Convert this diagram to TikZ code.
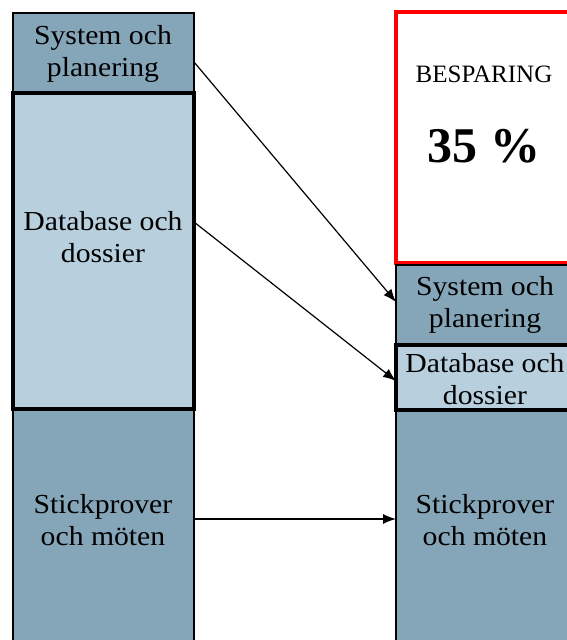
\documentclass[tikz,border=0pt]{standalone}
\usepackage{fontspec}
\setmainfont{Liberation Serif}
\newfontfamily\wideserif[FakeStretch=1.08]{Liberation Serif}
\usetikzlibrary{arrows.meta,calc}
\definecolor{darkfill}{HTML}{85A5B8}
\definecolor{lightfill}{HTML}{B8CFDD}
\tikzset{
  box/.style={draw=black, line width=1.5pt, anchor=north west, inner sep=0pt, outer sep=0pt},
  thickbox/.style={draw=black, line width=3.5pt, anchor=north west, inner sep=0pt, outer sep=0pt},
  lbl/.style={align=center, font=\wideserif\fontsize{27.5}{32.5}\selectfont, inner sep=0pt},
  conn/.style={line width=1.2pt, -{Latex[length=13pt,width=10pt]}}
}
\begin{document}
\begin{tikzpicture}[x=1pt,y=1pt]
\useasboundingbox (0,0) rectangle (567,-640);
\begin{scope}
\clip (0,0) rectangle (567,-640);
% left column
\node[box, fill=darkfill, minimum width=181pt, minimum height=80pt] (sysA) at (13,-13) {};
\node[box, fill=darkfill, minimum width=181pt, minimum height=240pt] (stA) at (13,-409) {};
\node[thickbox, fill=lightfill, minimum width=181pt, minimum height=316pt] (dbA) at (13,-93) {};
% right column
\node[draw=red, line width=3.5pt, anchor=north west, inner sep=0pt, outer sep=0pt, minimum width=190pt, minimum height=251pt] (save) at (396,-12) {};
\node[box, fill=darkfill, minimum width=190pt, minimum height=80pt] (sysB) at (396,-265) {};
\node[box, fill=darkfill, minimum width=190pt, minimum height=240pt] (stB) at (396,-410) {};
\node[thickbox, fill=lightfill, minimum width=190pt, minimum height=65pt] (dbB) at (396,-345) {};
\end{scope}
% texts
\node[lbl] (tsysA) at (103,-54) {System och\\planering};
\node[lbl] (tdbA) at (103,-237) {Database och\\dossier};
\node[lbl] (tstA) at (103,-520) {Stickprover\\och möten};
\node[lbl] (tsysB) at (485,-305) {System och\\planering};
\node[lbl] (tdbB) at (485,-379) {Database och\\dossier};
\node[lbl] (tstB) at (485,-520) {Stickprover\\och möten};
\node[font=\fontsize{25}{29}\selectfont, inner sep=0pt] (tsave) at (484,-74) {BESPARING};
\node[font=\bfseries\fontsize{50}{56}\selectfont, inner sep=0pt] (tpct) at (484,-146) {35 \%};
% connectors
\coordinate (a1) at ($(sysA.north east)+(0,-49)$);
\coordinate (b1) at ($(sysB.north west)+(0,-37)$);
\coordinate (a2) at ($(dbA.north east)+(0,-129)$);
\coordinate (b2) at ($(dbB.north west)+(0,-36)$);
\coordinate (a3) at ($(stA.north east)+(0,-110)$);
\coordinate (b3) at ($(stB.north west)+(0,-109)$);
\draw[conn] (a1) -- (b1);
\draw[conn] (a2) -- (b2);
\draw[conn] (a3) -- (b3);
\end{tikzpicture}
\end{document}
